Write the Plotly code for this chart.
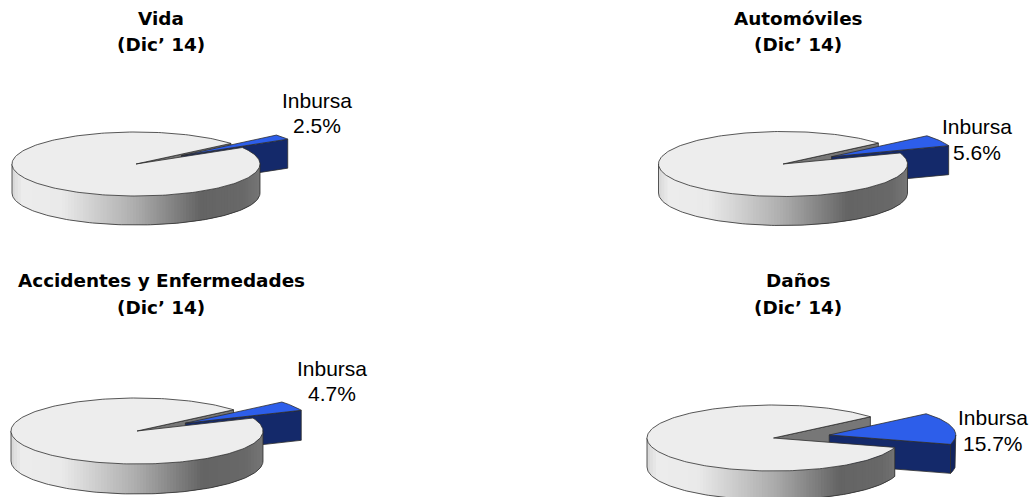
import numpy as np
import plotly.graph_objects as go

# --- data ---
categories = ["Vida", "Automóviles", "Accidentes y Enfermedades", "Daños"]
period = ["(Dic’ 14)", "(Dic’ 14)", "(Dic’ 14)", "(Dic’ 14)"]
inbursa_share = [2.5, 5.6, 4.7, 15.7]
slice_label = "Inbursa"

# --- layout of each drum (pixels) ---
W, H = 1035, 497
centre_x = [136, 783, 137, 773.5]
centre_y = [164, 164, 431, 438]
radius_x = [124, 124.5, 126, 126.5]
radius_y = [32, 32.5, 33, 33]
depth = [29, 29, 30, 29]
title_x = [161, 798, 161, 798]
title_y = [[18, 44], [18, 44], [280, 307], [280, 307]]
label_x = [316.5, 976.5, 332, 992.5]
label_y = [[100, 125], [126.5, 152], [368, 393], [417, 443]]

START = 40.0       # angle at which the Inbursa slice begins (deg, going clockwise)
EXPLODE = 0.45
EDGE = "rgb(45,45,45)"
EDGE_W = 0.8
TOP_GREY = "#ededed"
INNER_GREY = "#777777"
BLUE_TOP = "#2d5eea"
BLUE_SIDE = "#14296a"
BLUE_ARC = "#11245f"

fig = go.Figure()


def poly(xs, ys, fill, line=EDGE, width=EDGE_W):
    fig.add_trace(go.Scatter(x=list(xs), y=list(ys), mode="lines", fill="toself",
                             fillcolor=fill, line=dict(color=line, width=width),
                             hoverinfo="skip", showlegend=False))


def stroke(xs, ys):
    fig.add_trace(go.Scatter(x=list(xs), y=list(ys), mode="lines",
                             line=dict(color=EDGE, width=EDGE_W),
                             hoverinfo="skip", showlegend=False))


def wall_colour(f):
    stops = [0, 0.04, 0.2, 0.5, 0.76, 0.93, 1.0]
    vals = [214, 236, 234, 172, 100, 104, 118]
    v = int(round(np.interp(f, stops, vals)))
    return f"rgb({v},{v},{v})"


def draw_pie(i):
    cx, cy, rx, ry, d = centre_x[i], centre_y[i], radius_x[i], radius_y[i], depth[i]
    share = inbursa_share[i]
    t0 = START
    t1 = START - share * 3.6
    mid = np.radians((t0 + t1) / 2)

    def px(t, ox=cx):
        return ox + rx * np.cos(np.radians(t))

    def py(t, oy=cy):
        return oy - ry * np.sin(np.radians(t))

    # pulled-out slice centre
    bx = cx + EXPLODE * rx * np.cos(mid)
    by = cy - EXPLODE * ry * np.sin(mid)

    # inner radial face of the large slice, seen through the gap
    poly([cx, px(t0), px(t0), cx, cx],
         [cy, py(t0), py(t0) + d, cy + d, cy], INNER_GREY)

    # Inbursa slice: outer wall, radial face, top
    if t1 < 0:
        a = np.linspace(t1, 0, 20)
        ax, ay = px(a, bx), py(a, by)
        poly(list(ax) + list(ax[::-1]) + [ax[0]],
             list(ay) + list(ay[::-1] + d) + [ay[0]], BLUE_ARC)
    ex, ey = px(t1, bx), py(t1, by)
    poly([bx, ex, ex, bx, bx], [by, ey, ey + d, by + d, by], BLUE_SIDE)
    a = np.linspace(t1, t0, 30)
    poly([bx] + list(px(a, bx)) + [bx], [by] + list(py(a, by)) + [by], BLUE_TOP)

    # front wall of the large slice: strips that overlap the next one, so no seams show
    end = 360 + min(t1, 0)
    xs = np.linspace(cx - rx, px(end), 85)
    ts = 360 - np.degrees(np.arccos(np.clip((xs - cx) / rx, -1, 1)))
    for j in range(len(ts) - 1):
        seg = np.linspace(ts[j], ts[min(j + 2, len(ts) - 1)], 5)
        sx, sy = px(seg), py(seg)
        c = wall_colour((xs[j] + xs[j + 1]) / 2 / (2 * rx) - (cx - rx) / (2 * rx))
        poly(list(sx) + list(sx[::-1]) + [sx[0]],
             list(sy) + list(sy[::-1] + d) + [sy[0]], c, line=c, width=0)
    arc = np.linspace(180, end, 120)
    stroke(px(arc), py(arc) + d)
    stroke([px(180), px(180)], [py(180), py(180) + d])
    stroke([px(end), px(end)], [py(end), py(end) + d])

    # top of the large slice
    a = np.linspace(t0, t1 + 360, 240)
    poly([cx] + list(px(a)) + [cx], [cy] + list(py(a)) + [cy], TOP_GREY)


for k in range(len(categories)):
    draw_pie(k)

annotations = []
for k, name in enumerate(categories):
    for line, yy in zip([name, period[k]], title_y[k]):
        annotations.append(dict(x=title_x[k], y=yy, xref="x", yref="y", text=f"<b>{line}</b>",
                                showarrow=False, xanchor="center", yanchor="middle",
                                font=dict(family="DejaVu Sans", size=18.4, color="#000000")))
    for line, yy in zip([slice_label, f"{inbursa_share[k]}%"], label_y[k]):
        annotations.append(dict(x=label_x[k], y=yy, xref="x", yref="y", text=line,
                                showarrow=False, xanchor="center", yanchor="middle",
                                font=dict(family="Liberation Sans", size=21, color="#000000")))

fig.update_layout(
    width=W, height=H, margin=dict(l=0, r=0, t=0, b=0),
    paper_bgcolor="white", plot_bgcolor="white", showlegend=False,
    xaxis=dict(range=[0, W], visible=False, fixedrange=True),
    yaxis=dict(range=[H, 0], visible=False, fixedrange=True),
    annotations=annotations,
)

fig.write_html("out.html", post_script="document.body.style.margin='0';document.body.style.overflow='hidden';",
               config={"displayModeBar": False})
